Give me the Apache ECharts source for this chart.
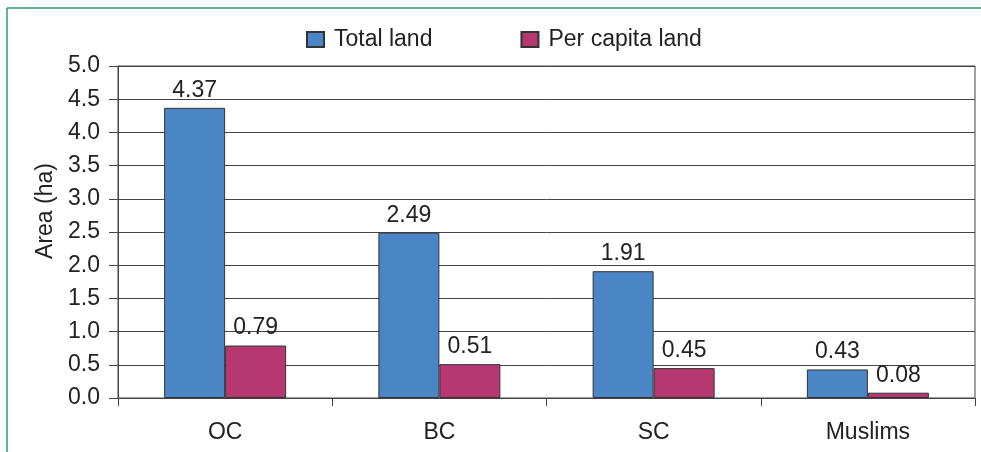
<!DOCTYPE html>
<html>
<head>
<meta charset="utf-8">
<script src="https://cdn.jsdelivr.net/npm/echarts@6/dist/echarts.min.js"></script>
<style>
html,body{margin:0;padding:0;background:#fff;}
#chart{width:981px;height:452px;}
</style>
</head>
<body>
<div id="chart"></div>
<script>
const categories = ['OC', 'BC', 'SC', 'Muslims'];
const totalLand = [4.37, 2.49, 1.91, 0.43];
const perCapitaLand = [0.79, 0.51, 0.45, 0.08];
const seriesNames = ['Total land', 'Per capita land'];
const yAxisTitle = 'Area (ha)';

const FONT = 'Arial, "Liberation Sans", sans-serif';
const FS = 23;
const chart = echarts.init(document.getElementById('chart'), null, {renderer: 'canvas'});
const labelCfg = {
  show: true, position: 'top', distance: 6,
  fontFamily: FONT, fontSize: FS, color: '#222',
  formatter: p => p.value.toFixed(2)
};
chart.setOption({
  animation: false,
  backgroundColor: '#fff',
  textStyle: {fontFamily: FONT},
  graphic: [
    {type: 'line', shape: {x1: 7, y1: 8, x2: 981, y2: 8}, style: {stroke: '#2a9a78', lineWidth: 1.5}},
    {type: 'line', shape: {x1: 7, y1: 8, x2: 7, y2: 452}, style: {stroke: '#2a9a78', lineWidth: 1.5}},
    {type: 'text', x: 46, y: 211, rotation: Math.PI / 2,
     style: {text: yAxisTitle, fontFamily: FONT, fontSize: FS, fill: '#222', align: 'center', verticalAlign: 'middle'}}
  ],
  legend: {
    data: seriesNames,
    left: 301, top: 23,
    itemWidth: 17, itemHeight: 15, itemGap: 88,
    textStyle: {fontFamily: FONT, fontSize: FS, color: '#222', padding: [0, 0, 0, 5]},
    icon: 'rect'
  },
  grid: {
    left: 118, right: 6, top: 66, bottom: 54,
    show: true, borderColor: '#444', borderWidth: 1, backgroundColor: 'transparent'
  },
  xAxis: {
    type: 'category',
    data: categories,
    axisLine: {lineStyle: {color: '#444', width: 1}},
    axisTick: {show: true, length: 8, lineStyle: {color: '#444'}},
    axisLabel: {margin: 23, fontFamily: FONT, fontSize: FS, color: '#222'}
  },
  yAxis: {
    type: 'value',
    min: 0, max: 5, interval: 0.5,
    axisLine: {show: true, lineStyle: {color: '#444', width: 1}},
    axisTick: {show: true, length: 9, lineStyle: {color: '#444'}},
    axisLabel: {margin: 18, fontFamily: FONT, fontSize: FS, color: '#222', formatter: v => v.toFixed(1)},
    splitLine: {show: true, lineStyle: {color: '#444', width: 1}}
  },
  series: [
    {
      name: seriesNames[0], type: 'bar', data: totalLand,
      barWidth: 61, barGap: '0%',
      itemStyle: {color: '#4a86c6', borderColor: '#333', borderWidth: 1},
      label: labelCfg
    },
    {
      name: seriesNames[1], type: 'bar', data: perCapitaLand,
      barWidth: 61, barGap: '0%',
      itemStyle: {color: '#b73771', borderColor: '#333', borderWidth: 1},
      label: labelCfg
    }
  ]
});
</script>
</body>
</html>
